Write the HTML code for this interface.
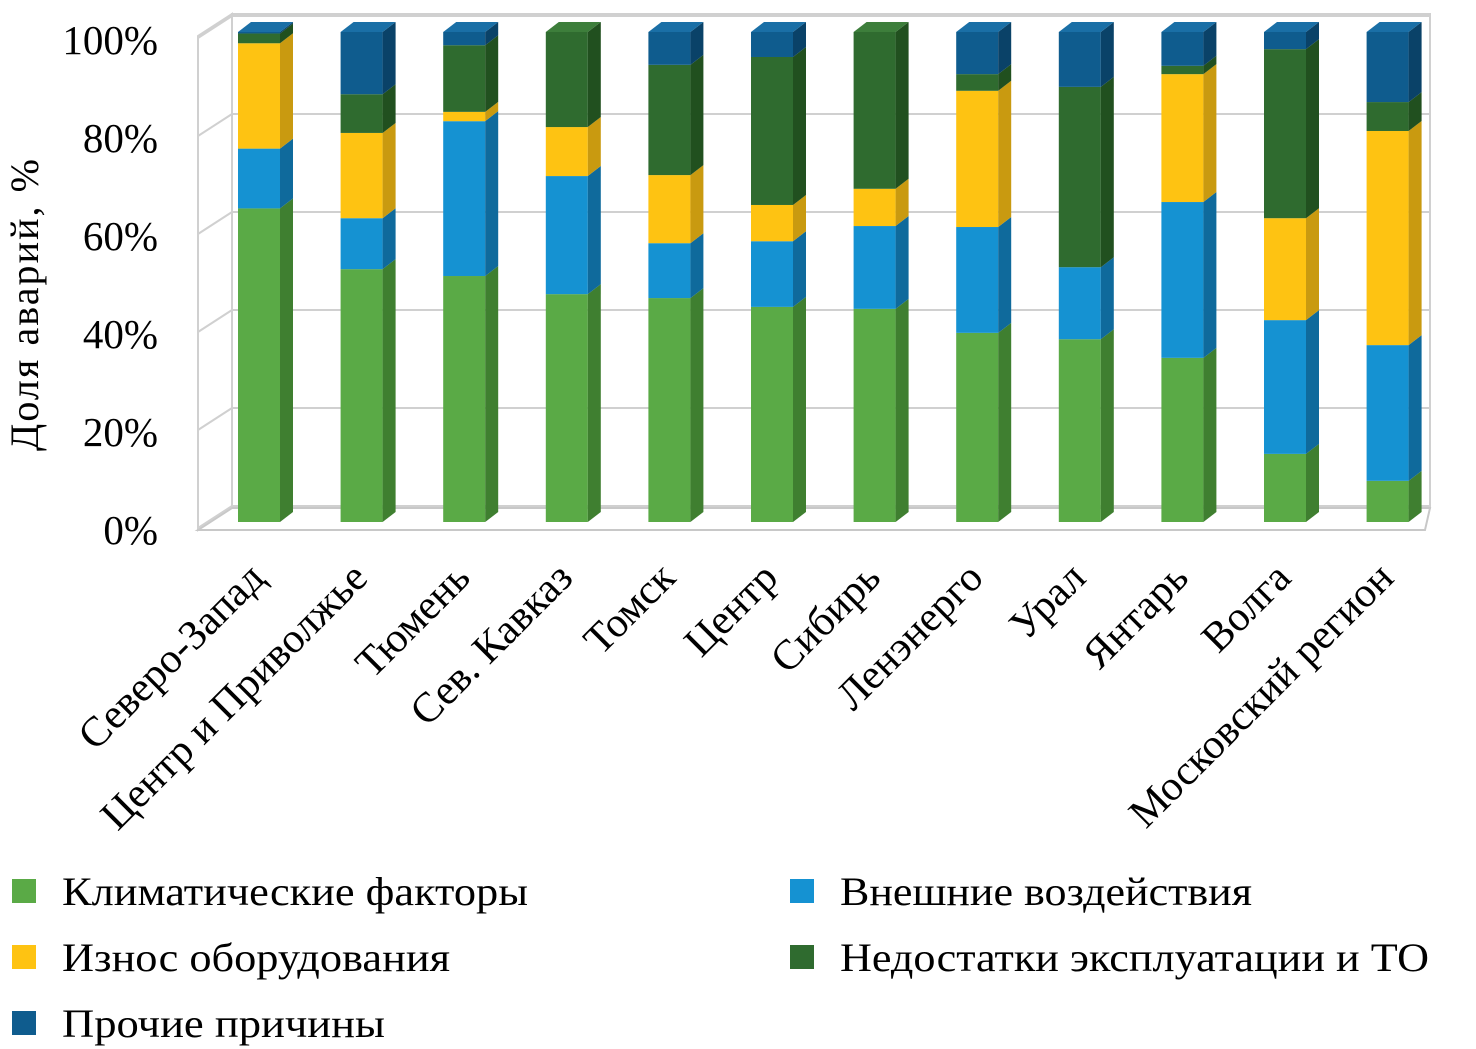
<!DOCTYPE html>
<html><head><meta charset="utf-8"><style>
html,body{margin:0;padding:0;background:#fff;}
svg{display:block;font-family:"Liberation Serif",serif;}
</style></head><body>
<svg id="chart" width="1476" height="1049" viewBox="0 0 1476 1049">
<g id="walls"></g>
<g id="bars"></g>
<g id="ticks"></g>
<g id="cats"></g>
<text x="38" y="305" font-size="40" text-anchor="middle" textLength="292" transform="rotate(-90 38 305)">Доля аварий, %</text>
<g id="legend"></g>
</svg>
<script>
const categories=["Северо-Запад","Центр и Приволжье","Тюмень","Сев. Кавказ","Томск","Центр","Сибирь","Ленэнерго","Урал","Янтарь","Волга","Московский регион"];
const climatic=[64,51.6,50.2,46.5,45.7,43.9,43.5,38.6,37.3,33.5,13.9,8.4];
const external=[12.2,10.4,31.6,24.1,11.2,13.4,16.9,21.6,14.7,31.8,27.3,27.7];
const wear=[21.5,17.4,1.9,10,13.9,7.4,7.6,27.8,0,26.1,20.8,43.7];
const operation=[2,7.9,13.6,19.4,22.5,30.2,32,3.4,36.8,1.7,34.5,5.9];
const other=[0.3,12.7,2.7,0,6.7,5.1,0,8.6,11.2,6.9,3.5,14.3];
const tickLabels=["0%","20%","40%","60%","80%","100%"];
const tickValues=[0,20,40,60,80,100];
const seriesNames=["Климатические факторы","Внешние воздействия","Износ оборудования","Недостатки эксплуатации и ТО","Прочие причины"];

const NS="http://www.w3.org/2000/svg";
const colors=["#5aaa46","#1592d2","#fec312","#2f6b2f","#0f5c8e"];
const sideC=["#3f7f30","#0f6a9c","#c99a10","#21501f","#0a4268"];
const topC=["#6dbb58","#3aa5de","#ffd247","#3d7e3b","#1a6fa6"];
const series=[climatic,external,wear,operation,other];
const y0=522,yTop=32,dx=13,dy=10,bw=42;
function y(v){return y0-(v/100)*(y0-yTop);}
function x(i){return 259+i*102.6;}
function mk(tag,attrs,parent){const e=document.createElementNS(NS,tag);for(const k in attrs)e.setAttribute(k,attrs[k]);parent.appendChild(e);return e;}
const walls=document.getElementById('walls');
mk('polygon',{points:"232,14 1430,14 1430,508 232,508",fill:"#fff",stroke:"#d0d0d0","stroke-width":2},walls);
mk('polygon',{points:"198,36 232,14 232,508 198,530",fill:"#fff",stroke:"#d0d0d0","stroke-width":2},walls);
mk('polygon',{points:"198,530 232,508 1430,508 1425,530",fill:"#fff",stroke:"#c8c8c8","stroke-width":2},walls);
tickValues.forEach(v=>{
  const yy=y(v)-16;
  const g=mk('line',{x1:232,x2:1430,y1:yy,y2:yy,stroke:"#d0d0d0","stroke-width":2},walls);
  
  
  mk('line',{x1:198,x2:232,y1:yy+22,y2:yy,stroke:"#d0d0d0","stroke-width":2},walls);
});
const ticks=document.getElementById('ticks');
tickValues.forEach((v,i)=>{
  const t=mk('text',{x:158,y:y(v)+22,"font-size":41,"text-anchor":"end"},ticks);
  t.textContent=tickLabels[i];
  
  
});
const bars=document.getElementById('bars');
categories.forEach((c,i)=>{
  let acc=0;const L=x(i)-bw/2,R=x(i)+bw/2;
  series.forEach((s,k)=>{
    const v=s[i];if(v<=0)return;
    const yb=y(acc),yt=y(acc+v);acc+=v;
    const f=mk('rect',{x:L,y:yt,width:bw,height:yb-yt,fill:colors[k]},bars);
    
    
    mk('polygon',{points:`${R},${yb} ${R+dx},${yb-dy} ${R+dx},${yt-dy} ${R},${yt}`,fill:sideC[k]},bars);
  });
  let k=4;while(k>0&&series[k][i]<=0)k--;
  const yt=y(acc);
  mk('polygon',{points:`${L},${yt} ${L+dx},${yt-dy} ${R+dx},${yt-dy} ${R},${yt}`,fill:topC[k]},bars);
  const t=mk('text',{x:0,y:0,"font-size":42,"text-anchor":"end",transform:`translate(${x(i)+8},${580}) rotate(-45)`},document.getElementById('cats'));
  t.textContent=c;
  
  
});
const legend=document.getElementById('legend');
const lpos=[[12,891],[790,891],[12,957],[790,957],[12,1023]];
const lwidth=[466,412,388,589,323];
[0,1,2,3,4].forEach((k,j)=>{
  const [lx,ly]=lpos[j];
  const r=mk('rect',{x:lx,y:ly-12,width:24,height:24,fill:colors[k]},legend);
  
  
  const t=mk('text',{x:lx+50,y:ly+14,"font-size":40,textLength:lwidth[k],lengthAdjust:"spacingAndGlyphs"},legend);
  t.textContent=seriesNames[k];
  
  
});
</script>
</body></html>
